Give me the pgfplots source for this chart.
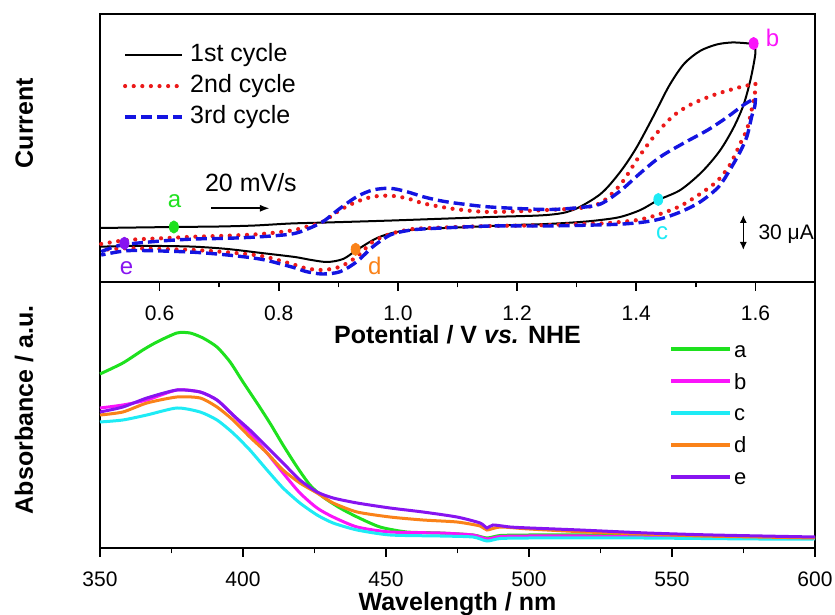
\documentclass[border=0pt]{standalone}
\usepackage{fontspec}
\setmainfont{Liberation Sans}
\usepackage{pgfplots}
\pgfplotsset{compat=1.18}
\usetikzlibrary{arrows.meta}

\definecolor{cvred}{RGB}{235,25,25}
\definecolor{cvblue}{RGB}{20,20,225}
\definecolor{ca}{RGB}{30,225,30}
\definecolor{cb}{RGB}{250,20,250}
\definecolor{cc}{RGB}{30,235,245}
\definecolor{cd}{RGB}{250,130,25}
\definecolor{ce}{RGB}{135,20,240}

\pgfplotsset{
  cvA/.style={black, line width=1pt},
  cvB/.style={cvred, line width=2.1pt, line cap=round, dash pattern=on 0pt off 4.3pt},
  cvC/.style={cvblue, line width=1.7pt, dash pattern=on 5.5pt off 2.5pt},
  common/.style={
    scale only axis, width=357.5pt, clip=false,
    axis line style={line width=0.8pt},
    tick style={line width=0.8pt, black},
    tick align=outside, xtick pos=bottom, ytick=\empty,
    major tick length=4.5pt, minor tick length=2.7pt,
    minor x tick num=1,
    /pgf/number format/assume math mode=true,
    xticklabel style={font=\fontsize{10.5}{12}\selectfont, yshift=-4pt},
  },
}

\begin{document}
\begin{tikzpicture}
\path[use as bounding box] (-50pt,-33.5pt) rectangle (367.5pt,274pt);

% ---------------- bottom: spectra ----------------
\begin{axis}[common,
  at={(0,0)}, anchor=south west, height=133pt,
  xmin=350, xmax=600, ymin=0, ymax=266,
  xtick={350,400,...,600},
  xlabel={Wavelength / nm},
  xlabel style={font=\bfseries\fontsize{12.5}{15}\selectfont, at={(axis description cs:0.5,0)}, anchor=base, yshift=-31.3pt, inner sep=0pt},
  ylabel={Absorbance / a.u.},
  ylabel style={font=\bfseries\fontsize{12.5}{15}\selectfont, at={(axis description cs:-0.0937,0.519)}, anchor=base, inner sep=0pt},
  legend style={at={(axis description cs:0.796,0.5075)}, anchor=west, draw=none, fill=none,
    font=\fontsize{11}{13}\selectfont, row sep=7.9pt, inner sep=0pt, outer sep=0pt,
    nodes={inner sep=0pt, text height=8pt, text depth=0pt}, column sep=1pt},
  legend image code/.code={\draw[#1, line width=2pt] (0pt,0pt) -- (29.5pt,0pt);},
  legend cell align=left,
  every axis plot/.append style={line width=1.5pt, smooth, tension=0.4},
]
\addplot[ca] coordinates {(350,174) (358,185) (365,198) (369.9,206) (376.9,215) (381.5,215) (386,210) (390.9,201) (395.5,186) (400,166) (404.9,145) (409.4,125) (414,103) (418.9,81) (423.4,63) (428,51) (433.9,40) (439.9,31) (447.9,21) (457.3,16) (468.9,15) (480.4,13) (485.3,10) (490,12.5) (500,13) (520,13) (540,12) (560,11) (580,11) (600,10)};
\addlegendentry{a}
\addplot[cb] coordinates {(350,140) (358,143) (366.4,148) (376.9,158) (385,156) (390.9,148) (396.5,133) (402.4,115) (408.4,95) (414,75) (419.9,55) (425.9,40) (431.5,31) (439.9,21) (451.4,16) (468.9,15) (480.4,13) (485.3,9) (490,11.5) (500,12) (520,12) (540,11) (560,11) (580,10) (600,10)};
\addlegendentry{b}
\addplot[cc] coordinates {(350,126) (358,128) (366.4,133) (376.9,140) (385,136) (390.9,128) (396.5,115) (402.4,98) (408.4,78) (414,60) (419.9,45) (425.9,33) (431.5,25) (439.9,18) (451.4,13) (468.9,12) (480.4,11) (485.3,7) (490,9.5) (500,10) (520,10) (540,10) (560,9.5) (580,9) (600,9)};
\addlegendentry{c}
\addplot[cd] coordinates {(350,133) (358,136) (366.4,145) (376.9,151) (385,150) (390.9,141) (396.5,128) (402.4,111) (408.4,95) (414,78) (419.9,65) (425.9,55) (431.5,45) (439.9,36) (451.4,31) (462.9,28) (474.8,26) (482.9,22) (485.3,18) (490,21) (500,19) (520,16) (540,14) (560,12) (580,11) (600,10)};
\addlegendentry{d}
\addplot[ce] coordinates {(350,136) (358,141) (366.4,150) (376.9,158) (385,156) (390.9,148) (396.5,133) (402.4,118) (408.4,101) (414,85) (419.9,68) (425.9,56) (431.5,50) (439.9,45) (451.4,40) (462.9,36) (474.8,31) (482.9,25) (485.3,20) (487.4,23) (493.4,21) (500.3,20) (517.8,18) (541.3,15) (564.3,13) (600,11)};
\addlegendentry{e}
\end{axis}

% ---------------- top: cyclic voltammetry ----------------
\begin{axis}[common,
  at={(0,133pt)}, anchor=south west, height=134pt,
  xmin=0.5, xmax=1.7, ymin=0, ymax=268,
  xtick={0.6,0.8,...,1.61},
  xticklabel={\pgfmathprintnumber[fixed,fixed zerofill,precision=1]{\tick}},
  xlabel={Potential / V \textit{vs.} NHE},
  xlabel style={font=\bfseries\fontsize{12.5}{15}\selectfont, at={(axis description cs:0.5,0)}, anchor=base, yshift=-31pt, inner sep=0pt},
  ylabel={Current},
  ylabel style={font=\bfseries\fontsize{12.5}{15}\selectfont, at={(axis description cs:-0.0937,0.593)}, anchor=base, inner sep=0pt},
  legend style={at={(axis description cs:0.0322,0.731)}, anchor=west, draw=none, fill=none,
    font=\fontsize{12.5}{15}\selectfont, row sep=3.9pt, inner sep=0pt, outer sep=0pt,
    nodes={inner sep=0pt, text height=9pt, text depth=2.6pt}, column sep=3pt},
  legend image code/.code={\draw[#1] (0pt,0pt) -- (28.5pt,0pt);},
  legend cell align=left,
]
% 1st cycle
\addplot[cvA, smooth, tension=0.5] coordinates {(0.500,54) (0.624,55) (0.700,55.5) (0.760,56.5) (0.820,58.5) (0.880,59.5) (0.990,61.5) (1.155,65) (1.250,67) (1.294,72) (1.340,88) (1.373,110) (1.400,134) (1.429,166) (1.455,196) (1.480,218) (1.507,231) (1.535,237.5) (1.560,239.5) (1.580,239) (1.597,238)};
\addlegendentry{1st cycle}
\addplot[cvA, smooth, tension=0.5, forget plot] coordinates {(1.597,238) (1.600,229) (1.592,203) (1.580,177) (1.563,154) (1.540,131) (1.510,110) (1.474,92) (1.437,82) (1.407,72) (1.373,65) (1.340,62) (1.306,60) (1.250,58) (1.193,57) (1.155,56) (1.100,54.5) (1.042,53) (0.998,50) (0.965,44) (0.931,32) (0.908,23) (0.881,20) (0.850,22.5) (0.827,25) (0.771,29) (0.714,33) (0.659,35.3) (0.603,36) (0.546,36) (0.502,35.3)};
% 2nd cycle
\addplot[cvB, smooth, tension=0.5] coordinates {(0.502,38) (0.546,42) (0.603,43.7) (0.659,45.3) (0.714,46.3) (0.771,48) (0.822,51.5) (0.847,55.3) (0.874,60.3) (0.903,72) (0.931,80.3) (0.958,85.3) (0.987,86.3) (1.015,83.7) (1.042,78.7) (1.071,75.3) (1.099,72.7) (1.155,70) (1.250,72) (1.306,74) (1.340,79) (1.373,97) (1.402,123) (1.429,145) (1.460,165) (1.490,177) (1.530,187) (1.575,195) (1.600,198)};
\addlegendentry{2nd cycle}
\addplot[cvB, smooth, tension=0.5, forget plot] coordinates {(1.600,198) (1.599,188) (1.594,173) (1.586,153) (1.575,139) (1.557,117) (1.536,101) (1.507,88) (1.474,76) (1.440,68) (1.407,62.5) (1.373,60) (1.340,58.5) (1.306,58) (1.222,56.5) (1.155,56) (1.042,53.7) (1.015,52) (0.987,48) (0.958,40.3) (0.931,25.3) (0.903,15.3) (0.874,12) (0.847,13.5) (0.822,18) (0.771,26) (0.714,29.7) (0.659,32) (0.603,33) (0.546,33.7) (0.502,32)};
% 3rd cycle
\addplot[cvC, smooth, tension=0.5] coordinates {(0.502,30.3) (0.536,37) (0.603,41) (0.659,43) (0.714,43.7) (0.771,45.3) (0.822,48) (0.847,52.7) (0.874,60.3) (0.903,73.7) (0.931,85.3) (0.958,92) (0.987,93.7) (1.015,90.3) (1.042,85.3) (1.071,81.3) (1.099,78.7) (1.155,75) (1.250,72.5) (1.306,74.5) (1.340,78) (1.373,91) (1.407,109) (1.440,125) (1.480,139) (1.520,152) (1.553,165) (1.580,177) (1.600,184)};
\addlegendentry{3rd cycle}
\addplot[cvC, smooth, tension=0.5, forget plot] coordinates {(1.600,184) (1.599,176) (1.594,166) (1.586,146) (1.575,131) (1.558,113) (1.538,95) (1.507,80) (1.474,70) (1.440,63) (1.407,59.5) (1.360,57.5) (1.250,56) (1.155,56) (1.042,53) (1.015,51.3) (0.987,47) (0.958,35.3) (0.931,20.3) (0.903,10.3) (0.874,8) (0.847,10.3) (0.822,15) (0.771,22.7) (0.714,27) (0.659,29.7) (0.603,31) (0.546,31.3) (0.502,27)};
% marked points
\addplot[only marks, mark=*, ca, mark size=2.25pt, mark options={yscale=1.35}, forget plot] coordinates {(0.624,55)};
\addplot[only marks, mark=*, cb, mark size=2.25pt, mark options={yscale=1.35}, forget plot] coordinates {(1.597,238.5)};
\addplot[only marks, mark=*, cc, mark size=2.25pt, mark options={yscale=1.35}, forget plot] coordinates {(1.437,82.5)};
\addplot[only marks, mark=*, cd, mark size=2.25pt, mark options={yscale=1.35}, forget plot] coordinates {(0.929,32.7)};
\addplot[only marks, mark=*, ce, mark size=2.25pt, mark options={yscale=1.35}, forget plot] coordinates {(0.541,38.7)};
% labels
\node[anchor=base, text=ca, font=\fontsize{12}{14}\selectfont, inner sep=0pt] at (axis cs:0.625,74) {a};
\node[anchor=base west, text=cb, font=\fontsize{12}{14}\selectfont, inner sep=0pt] at (axis cs:1.6168,235) {b};
\node[anchor=base, text=cc, font=\fontsize{12}{14}\selectfont, inner sep=0pt] at (axis cs:1.4435,42) {c};
\node[anchor=base, text=cd, font=\fontsize{12}{14}\selectfont, inner sep=0pt] at (axis cs:0.9613,7) {d};
\node[anchor=base, text=ce, font=\fontsize{12}{14}\selectfont, inner sep=0pt] at (axis cs:0.5445,7) {e};
\node[anchor=base west, font=\fontsize{12.5}{15}\selectfont, inner sep=0pt] at (axis cs:0.6756,90) {20 mV/s};
\draw[line width=0.9pt, -{Latex[length=5pt,width=3.6pt]}] (axis cs:0.687,73.7) -- (axis cs:0.785,73.7);
\draw[line width=0.8pt, {Latex[length=4pt,width=3.6pt]}-{Latex[length=4pt,width=3.6pt]}] (axis cs:1.5797,67) -- (axis cs:1.5797,32);
\node[anchor=base west, font=\fontsize{10.5}{12}\selectfont, inner sep=0pt] at (axis cs:1.6046,42) {30 μA};
\end{axis}
\end{tikzpicture}
\end{document}
